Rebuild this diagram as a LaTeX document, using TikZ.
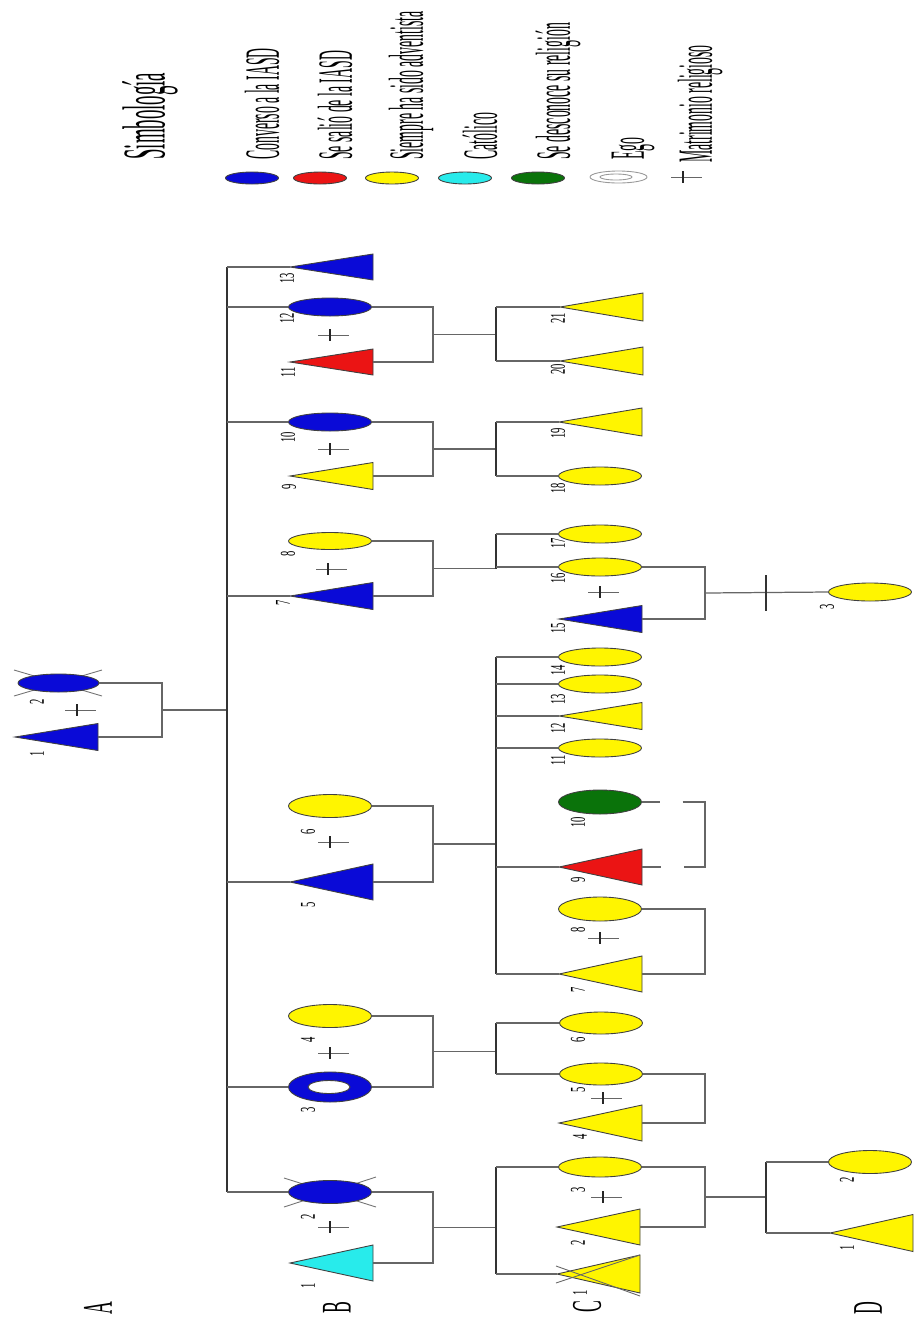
\documentclass[tikz,border=0pt]{standalone}
\usepackage{fontspec}
\setmainfont{Liberation Serif}
\usetikzlibrary{shapes.geometric,calc}
\definecolor{myblue}{RGB}{10,10,215}
\definecolor{myred}{RGB}{235,20,20}
\definecolor{myyellow}{RGB}{255,245,0}
\definecolor{mycyan}{RGB}{40,235,235}
\definecolor{mygreen}{RGB}{10,115,10}
\tikzset{
  shp/.style={draw=black!75, line width=0.5pt},
  ell/.style={ellipse, shp, inner sep=0pt, minimum width=83*0.02cm},
  conn/.style={draw=black!60, line width=0.7pt},
  sibline/.style={draw=black!80, line width=1.0pt},
  xline/.style={draw=black!55, line width=0.5pt},
  mline/.style={draw=black!60, line width=0.5pt},
  mtick/.style={draw=black!85, line width=1.0pt},
  lbl/.style={rotate=90, inner sep=0pt, font=\fontsize{12}{12}\selectfont},
  leg/.style={rotate=90, anchor=west, inner sep=0pt, font=\fontsize{28}{28}\selectfont},
  genlbl/.style={rotate=90, inner sep=0pt, font=\fontsize{24}{24}\selectfont},
}
% triangle: name, apex x, y, half height, fill
\newcommand\Tri[5]{%
  \draw[shp, fill=#5] (#2,#3) -- (#2+83,#3-#4) -- (#2+83,#3+#4) -- cycle;
  \coordinate (#1) at (#2,#3);
  \coordinate (#1b) at (#2+83,#3);}
% ellipse: name, x, y, half height, fill
\newcommand\Ell[5]{\node[ell, fill=#5, minimum height={2*#4*0.02cm}] (#1) at (#2,#3) {};}
\newcommand\Mar[2]{\draw[mline] (#1-12,#2) -- (#1+19,#2); \draw[mtick] (#1,#2-6) -- (#1,#2+6);}
\newcommand\Lab[4]{\node[lbl] (#1) at (#2,#3) {\scalebox{0.5}[1]{#4}};}
% couple: mid name, point1, point2, x-line coordinate
\newcommand\Couple[4]{%
  \draw[conn] (#2) -- (#4 |- #2) -- (#4 |- #3) -- (#3);
  \coordinate (#1) at ($(#4 |- #2)!0.5!(#4 |- #3)$);}
\begin{document}
\begin{tikzpicture}[x=0.02cm, y=-0.02cm]
\fill[white] (0,0) rectangle (915,1320);
\useasboundingbox (0,0) rectangle (915,1320);

% ---------- legend ----------
\node[leg, font=\fontsize{34.6}{35}\selectfont] (ttl) at (150,160) {\scalebox{0.31}[1]{Simbología}};
\node[ell, fill=myblue, minimum width=53*0.02cm, minimum height=12*0.02cm] (lg1) at (252,178) {};
\node[ell, fill=myred, minimum width=53*0.02cm, minimum height=12*0.02cm] (lg2) at (320,178) {};
\node[ell, fill=myyellow, minimum width=53*0.02cm, minimum height=12*0.02cm] (lg3) at (392,178) {};
\node[ell, fill=mycyan, minimum width=53*0.02cm, minimum height=12*0.02cm] (lg4) at (465,178) {};
\node[ell, fill=mygreen, minimum width=53*0.02cm, minimum height=12*0.02cm] (lg5) at (538,178) {};
\node[ell, draw=black!40, fill=white, minimum width=57*0.02cm, minimum height=12*0.02cm] (lg6) at (618.5,177) {};
\node[ell, draw=black!40, fill=white, minimum width=32*0.02cm, minimum height=6*0.02cm] (lg6i) at (616,177) {};
\Mar{683}{177}
\node[leg] (lt1) at (262,160) {\scalebox{0.28}[1]{Converso a la IASD}};
\node[leg] (lt2) at (335,160) {\scalebox{0.28}[1]{Se salió de la IASD}};
\node[leg] (lt3) at (411,160) {\scalebox{0.28}[1]{Siempre ha sido adventista}};
\node[leg] (lt4) at (480,160) {\scalebox{0.28}[1]{Católico}};
\node[leg] (lt5) at (558,160) {\scalebox{0.28}[1]{Se desconoce su religión}};
\node[leg] (lt6) at (633,160) {\scalebox{0.28}[1]{Ego}};
\node[leg] (lt7) at (700,163) {\scalebox{0.28}[1]{Matrimonio religioso}};

% ---------- generation letters ----------
\node[genlbl] (gA) at (98,1308) {\scalebox{0.42}[1]{A}};
\node[genlbl] (gB) at (337,1308) {\scalebox{0.42}[1]{B}};
\node[genlbl] (gC) at (587,1307) {\scalebox{0.42}[1]{C}};
\node[genlbl] (gD) at (868,1308) {\scalebox{0.42}[1]{D}};

% ---------- vertical reference x positions ----------
\coordinate (xA) at (162,0);
\coordinate (xB) at (227,0);
\coordinate (xBC) at (433,0);
\coordinate (xC) at (496,0);
\coordinate (xCC) at (705,0);
\coordinate (xD) at (766,0);

% ---------- generation A ----------
\draw[xline] (14,670) -- (102,696);
\draw[xline] (14,696) -- (102,670);
\node[ell, fill=myblue, minimum width=81*0.02cm, minimum height=18*0.02cm] (a2) at (58.5,683) {};
\Tri{a1}{15}{737}{13.5}{myblue}
\Mar{77}{710}
\Lab{la2}{37}{702}{2}
\Lab{la1}{37}{754}{1}
\Couple{ma}{a2.east}{a1b}{xA}
\draw[conn] (ma) -- (xB |- ma);

% ---------- generation B ----------
\Tri{b13}{290}{267}{13}{myblue}
\Ell{b12}{330}{307}{9}{myblue}
\Tri{b11}{290}{362}{13}{myred}
\Ell{b10}{330}{422}{9}{myblue}
\Tri{b9}{290}{476}{13.5}{myyellow}
\Ell{b8}{330}{541}{8.5}{myblue!0!myyellow}
\Tri{b7}{290}{596}{13.5}{myblue}
\Ell{b6}{330}{806}{11.5}{myyellow}
\Tri{b5}{290}{882}{18}{myblue}
\Ell{b4}{330}{1016}{11.5}{myyellow}
\node[ell, fill=myblue, minimum height=30*0.02cm] (b3) at (330,1087) {};
\node[ell, fill=white, minimum width=42*0.02cm, minimum height=13*0.02cm] (b3i) at (329,1087) {};
\draw[xline] (284,1178) -- (376,1207);
\draw[xline] (284,1207) -- (376,1177);
\Ell{b2}{330}{1192}{11.5}{myblue}
\Tri{b1}{290}{1263}{18}{mycyan}

\Mar{330}{335}
\Mar{330}{449}
\Mar{328}{569}
\Mar{330}{842}
\Mar{330}{1053}
\Mar{330}{1227}

\Lab{lb13}{287}{278}{13}
\Lab{lb12}{287}{318}{12}
\Lab{lb11}{288}{372}{11}
\Lab{lb10}{288}{437}{10}
\Lab{lb9}{289}{487}{9}
\Lab{lb8}{288}{554}{8}
\Lab{lb7}{283}{603}{7}
\Lab{lb6}{308}{832}{6}
\Lab{lb5}{308}{905}{5}
\Lab{lb4}{308}{1040}{4}
\Lab{lb3}{308}{1110}{3}
\Lab{lb2}{308}{1217}{2}
\Lab{lb1}{308}{1286}{1}

% sibling line of generation B
\draw[sibline] (xB |- b13) -- (xB |- b2.west);
\foreach \n in {b13,b7,b5} {\draw[conn] (xB |- \n) -- (\n);}
\foreach \n in {b12,b10,b3,b2} {\draw[conn] (xB |- \n.west) -- (\n.west);}

% couples of generation B
\Couple{m11}{b12.east}{b11b}{xBC}
\Couple{m9}{b10.east}{b9b}{xBC}
\Couple{m7}{b8.east}{b7b}{xBC}
\Couple{m5}{b6.east}{b5b}{xBC}
\Couple{m3}{b4.east}{b3.east}{xBC}
\Couple{m1}{b2.east}{b1b}{xBC}
\foreach \m in {m11,m9,m7,m5,m3,m1} {\draw[conn] (\m) -- (xC |- \m);}

% ---------- generation C ----------
\Tri{c21}{560}{307}{14}{myyellow}
\Tri{c20}{560}{361}{14}{myyellow}
\Tri{c19}{559}{422}{14}{myyellow}
\Ell{c18}{600}{476}{9}{myyellow}
\Ell{c17}{600}{534}{9}{myyellow}
\Ell{c16}{600}{567}{9}{myyellow}
\Tri{c15}{559}{619}{13.5}{myblue}
\Ell{c14}{600}{657}{9}{myyellow}
\Ell{c13}{600}{684}{9}{myyellow}
\Tri{c12}{559}{716}{13.5}{myyellow}
\Ell{c11}{600}{748}{9}{myyellow}
\Ell{c10}{600}{802}{12}{mygreen}
\Tri{c9}{559}{867}{18}{myred}
\Ell{c8}{600}{909}{12}{myyellow}
\Tri{c7}{559}{974}{18}{myyellow}
\Ell{c6}{601}{1023}{11}{myyellow}
\Ell{c5}{601}{1074}{11}{myyellow}
\Tri{c4}{559}{1123}{18}{myyellow}
\Ell{c3}{600}{1167}{10}{myyellow}
\Tri{c2}{557}{1227}{18}{myyellow}
\Tri{c1}{557}{1274}{19}{myyellow}
\draw[xline, draw=black!60] (556,1266) -- (640,1296);
\draw[xline, draw=black!60] (556,1283) -- (640,1255);

\Mar{600}{592}
\Mar{600}{938}
\Mar{603}{1098}
\Mar{603}{1197}

\Lab{lc21}{558}{318}{21}
\Lab{lc20}{558}{369}{20}
\Lab{lc19}{558}{433}{19}
\Lab{lc18}{558}{488}{18}
\Lab{lc17}{558}{543}{17}
\Lab{lc16}{558}{578}{16}
\Lab{lc15}{558}{628}{15}
\Lab{lc14}{558}{670}{14}
\Lab{lc13}{558}{699}{13}
\Lab{lc12}{558}{728}{12}
\Lab{lc11}{558}{760}{11}
\Lab{lc10}{578}{822}{10}
\Lab{lc9}{578}{880}{9}
\Lab{lc8}{578}{930}{8}
\Lab{lc7}{578}{990}{7}
\Lab{lc6}{578}{1040}{6}
\Lab{lc5}{578}{1090}{5}
\Lab{lc4}{580}{1137}{4}
\Lab{lc3}{578}{1190}{3}
\Lab{lc2}{578}{1243}{2}
\Lab{lc1}{580}{1293}{1}

% sibling lines of generation C
\draw[sibline] (xC |- c21) -- (xC |- c20);
\draw[sibline] (xC |- c19) -- (xC |- c18.west);
\draw[sibline] (xC |- c17.west) -- (xC |- m7);
\draw[sibline] (xC |- c14.west) -- (xC |- c7);
\draw[sibline] (xC |- c6.west) -- (xC |- c5.west);
\draw[sibline] (xC |- c3.west) -- (xC |- c1);
\foreach \n in {c21,c20,c19,c15,c12,c9,c7,c1} {\ifx\n c15\else\fi}
\foreach \n in {c21,c20,c19,c12,c9,c7,c1} {\draw[conn] (xC |- \n) -- (\n);}
\foreach \n in {c18,c17,c16,c14,c13,c11,c6,c5,c3} {\draw[conn] (xC |- \n.west) -- (\n.west);}

% couples of generation C
\Couple{n15}{c16.east}{c15b}{xCC}
\draw[conn, dash pattern=on 10.2pt off 13pt on 61.8pt off 13pt on 12pt] (c10.east) -- (xCC |- c10.east) -- (xCC |- c9b) -- (c9b);
\Couple{n7}{c8.east}{c7b}{xCC}
\Couple{n4}{c5.east}{c4b}{xCC}
\Couple{n2}{c3.east}{c2b}{xCC}

% ---------- generation D ----------
\Ell{d3}{870}{592}{9}{myyellow}
\Ell{d2}{870}{1162}{11.5}{myyellow}
\Tri{d1}{830}{1233}{18.5}{myyellow}
\Lab{ld3}{827}{607}{3}
\Lab{ld2}{847}{1180}{2}
\Lab{ld1}{847}{1248}{1}

\draw[conn] (n15) -- (d3.west);
\draw[sibline] ($(xD |- n15)+(0,-18)$) -- ($(xD |- n15)+(0,18)$);
\draw[conn] (n2) -- (xD |- n2);
\draw[sibline] (xD |- d2.west) -- (xD |- d1);
\draw[conn] (xD |- d2.west) -- (d2.west);
\draw[conn] (xD |- d1) -- (d1);
\end{tikzpicture}
\end{document}
